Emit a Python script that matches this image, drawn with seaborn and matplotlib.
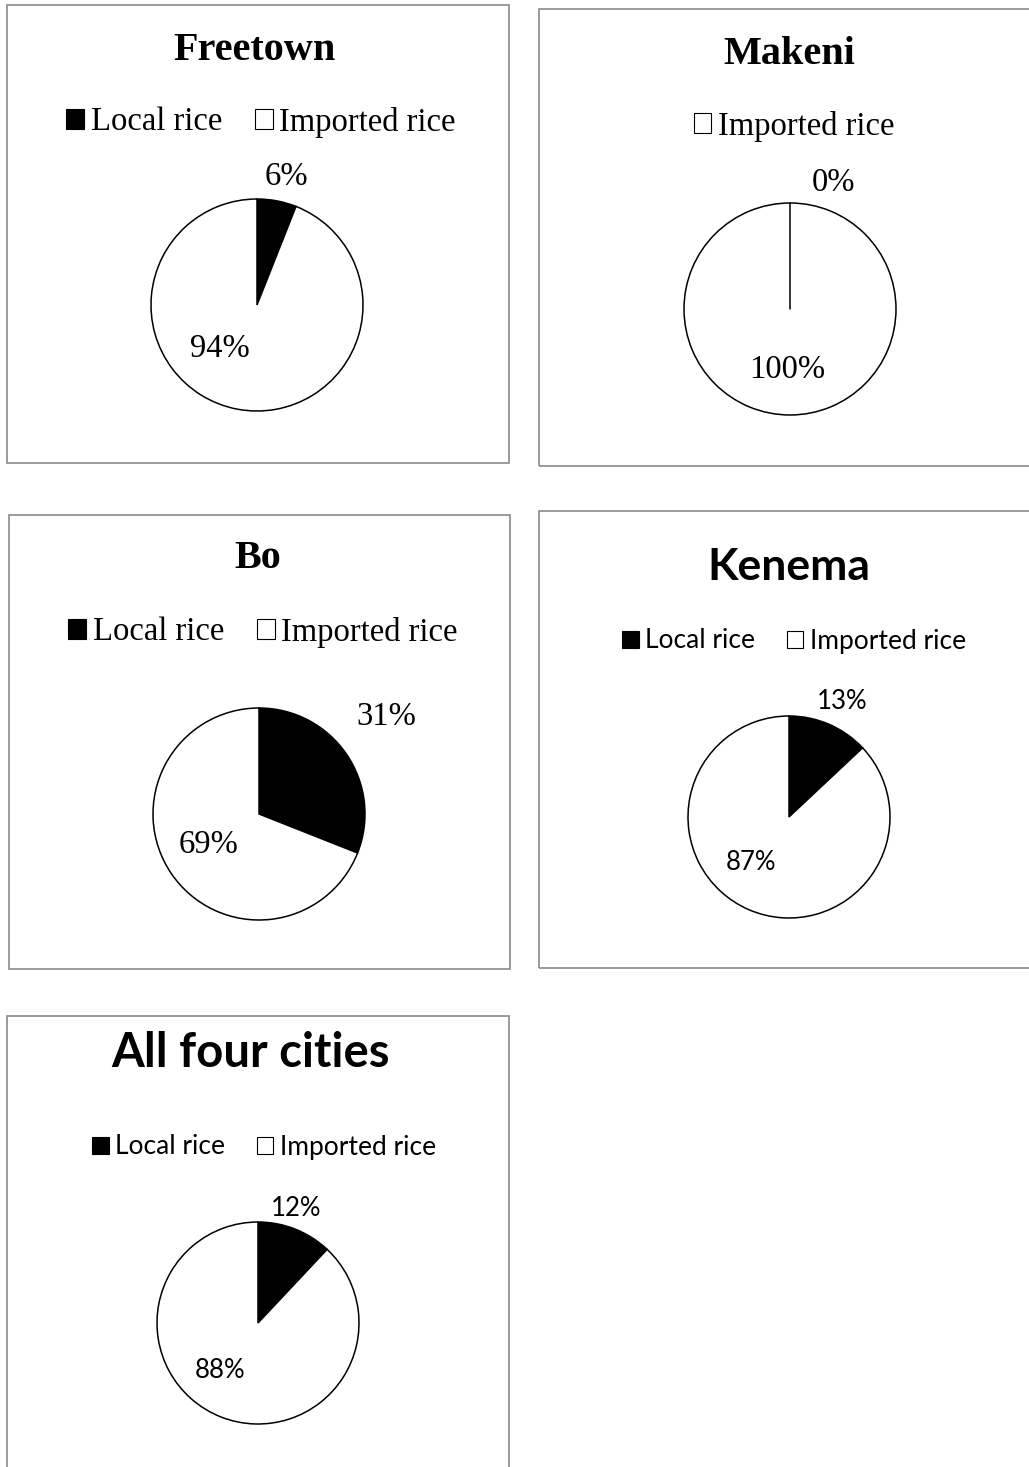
import matplotlib
matplotlib.use("Agg")
import numpy as np
import matplotlib.pyplot as plt
from matplotlib.patches import Patch, Rectangle
import seaborn as sns

# data: share of local vs imported rice by city (%)
cities = ['Freetown', 'Makeni', 'Bo', 'Kenema', 'All four cities']
local_rice = [6, 0, 31, 13, 12]
imported_rice = [94, 100, 69, 87, 88]
series_names = ['Local rice', 'Imported rice']
slice_colors = ['black', 'white']

# layout, in pixels of the 1029x1467 image
W, H = 1029, 1467
boxes = [(7, 5, 509, 463), (539, 9, 1034, 466), (9, 515, 510, 969),
         (539, 511, 1034, 968), (7, 1016, 509, 1480)]
pie_centers = [(257, 305), (790, 309), (259, 814), (789, 817), (258, 1323)]
pie_radii = [106, 106, 106, 101, 101]
title_pos = [(255, 50), (789, 55), (258, 558), (789, 567), (251, 1053)]
legend_pos = [(261, 122), (794, 126), (263, 632), (794, 641), (264, 1147)]
# label positions in units of the pie radius (local, imported)
label_pos = [[(0.28, 1.21), (-0.35, -0.41)],
             [(0.41, 1.19), (-0.03, -0.57)],
             [(1.20, 0.92), (-0.48, -0.29)],
             [(0.53, 1.14), (-0.38, -0.45)],
             [(0.38, 1.13), (-0.38, -0.47)]]

serif = {'family': 'Liberation Serif', 'title': 29, 'legend': 23.5, 'pct': 23.5,
         'hl': 0.55, 'pad': 0.2, 'col': 1.0}
sans4 = {'family': 'Lato', 'title': 32, 'legend': 19, 'pct': 18.5,
         'hl': 0.62, 'pad': 0.25, 'col': 1.2}
sans5 = dict(sans4, title=34)
styles = [serif, serif, serif, sans4, sans5]

sns.set_style('white')
plt.rcParams['text.color'] = 'black'
fig = plt.figure(figsize=(W / 100, H / 100), dpi=100)


def fx(x):
    return x / W


def fy(y):
    return 1 - y / H


for i, city in enumerate(cities):
    st = styles[i]
    vals = [local_rice[i], imported_rice[i]]

    # panel frame
    x0, y0, x1, y1 = boxes[i]
    fig.patches.append(Rectangle((fx(x0), fy(y1)), fx(x1 - x0), (y1 - y0) / H,
                                 transform=fig.transFigure, fill=False,
                                 edgecolor='#8a8a8a', linewidth=1.2))

    # title
    fig.text(fx(title_pos[i][0]), fy(title_pos[i][1]), city, ha='center', va='center',
             fontfamily=st['family'], fontsize=st['title'], fontweight='bold')

    # pie
    cx, cy = pie_centers[i]
    r = pie_radii[i] * 1.05
    ax = fig.add_axes([fx(cx - r), fy(cy + r), 2 * r / W, 2 * r / H])
    wedges, _ = ax.pie(vals, colors=slice_colors, startangle=90, counterclock=False,
                       radius=1, wedgeprops=dict(edgecolor='black', linewidth=1.1))
    # zero-size slices still show as a radial line
    for w, v in zip(wedges, vals):
        if v == 0:
            a = np.deg2rad(w.theta1)
            ax.plot([0, np.cos(a)], [0, np.sin(a)], color='black', lw=1.1)
    ax.set_xlim(-1.05, 1.05)
    ax.set_ylim(-1.05, 1.05)
    ax.set_axis_off()
    for v, (lx, ly) in zip(vals, label_pos[i]):
        ax.text(lx, ly, f'{v}%', ha='center', va='center',
                fontfamily=st['family'], fontsize=st['pct'])

    # legend: only series with a non-zero share
    handles, names = [], []
    for v, name, col in zip(vals, series_names, slice_colors):
        if v > 0:
            handles.append(Patch(facecolor=col, edgecolor='black', linewidth=0.8))
            names.append(name)
    fig.legend(handles, names, loc='center',
               bbox_to_anchor=(fx(legend_pos[i][0]), fy(legend_pos[i][1])),
               ncol=len(names), frameon=False,
               prop={'family': st['family'], 'size': st['legend']},
               handlelength=st['hl'], handleheight=st['hl'],
               handletextpad=st['pad'], columnspacing=st['col'])

fig.savefig('out.png', dpi=100, facecolor='white')
